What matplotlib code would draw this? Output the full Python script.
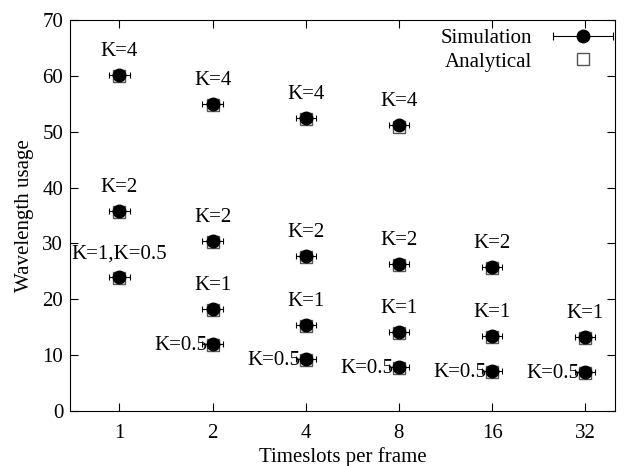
import matplotlib.pyplot as plt
import numpy as np
from matplotlib.legend_handler import HandlerErrorbar

plt.rcParams['font.family'] = ['Liberation Serif', 'DejaVu Serif']

timeslots = ['1', '2', '4', '8', '16', '32']

# simulation means, one list per K (None where not simulated)
sim_k4 = [60.2, 55.0, 52.5, 51.2, None, None]
sim_k2 = [35.8, 30.4, 27.7, 26.3, 25.8, None]
sim_k1 = [24.0, 18.3, 15.4, 14.1, 13.4, 13.2]
sim_k05 = [None, 12.0, 9.3, 7.9, 7.2, 7.0]

# analytical values
ana_k4 = [59.9, 54.7, 52.2, 50.9, None, None]
ana_k2 = [35.6, 30.2, 27.5, 26.1, 25.6, None]
ana_k1 = [23.8, 18.1, 15.2, 13.9, 13.2, 13.0]
ana_k05 = [None, 11.8, 9.1, 7.7, 7.0, 6.8]

sim_xerr = 0.11
FS = 15


def clean(vals):
    x = [i for i, v in enumerate(vals) if v is not None]
    y = [v for v in vals if v is not None]
    return x, y


fig, ax = plt.subplots(figsize=(6.37, 4.66), dpi=100)
fig.subplots_adjust(left=0.11, right=0.9655, top=0.957, bottom=0.118)

for i, (sim, ana) in enumerate([(sim_k4, ana_k4), (sim_k2, ana_k2),
                                (sim_k1, ana_k1), (sim_k05, ana_k05)]):
    xa, ya = clean(ana)
    ax.plot(xa, ya, 's', mfc='none', mec='#555555', ms=9, mew=1, zorder=2)
    xs, ys = clean(sim)
    ax.errorbar(xs, ys, xerr=sim_xerr, fmt='o', color='black', ms=9,
                capsize=2, elinewidth=0.8, capthick=0.8, zorder=3)

# legend handles (kept off-screen)
h_sim = ax.errorbar([np.nan], [np.nan], xerr=[1], fmt='o', color='black', ms=9,
                    capsize=3, elinewidth=0.8, capthick=0.8, label='Simulation')
h_ana, = ax.plot([np.nan], [np.nan], 's', mfc='none', mec='#555555', ms=9, mew=1,
                 label='Analytical')

# labels above points
for vals, txt in [(sim_k4, 'K=4'), (sim_k2, 'K=2'), (sim_k1, 'K=1')]:
    for i, v in enumerate(vals):
        if v is None:
            continue
        label = 'K=1,K=0.5' if (txt == 'K=1' and i == 0) else txt
        ax.annotate(label, (i, v), xytext=(0, 10), textcoords='offset points',
                    ha='center', va='bottom', fontsize=FS)

for i, v in enumerate(sim_k05):
    if v is None:
        continue
    ax.annotate('K=0.5', (i, v), xytext=(-4, -1), textcoords='offset points',
                ha='right', va='center', fontsize=FS)

ax.set_xlim(-0.53, 5.32)
ax.set_ylim(0, 70)
ax.set_xticks(range(len(timeslots)))
ax.set_xticklabels(timeslots)
ax.set_yticks(np.arange(0, 71, 10))
ax.tick_params(direction='in', top=True, right=True, labelsize=FS, length=6)
ax.tick_params(axis='x', pad=9)
ax.tick_params(axis='y', pad=5)
ax.set_xlabel('Timeslots per frame', fontsize=FS, labelpad=3)
ax.set_ylabel('Wavelength usage', fontsize=FS, labelpad=6)

ax.legend([h_sim, h_ana], ['Simulation', 'Analytical'],
          loc='upper right', bbox_to_anchor=(1.012, 1.0),
          frameon=False, markerfirst=False, fontsize=FS,
          handlelength=2.9, borderaxespad=0.0, borderpad=0.4, labelspacing=0.2,
          handletextpad=1.0,
          handler_map={h_sim: HandlerErrorbar(xerr_size=1.45)})

fig.savefig('out.png')
